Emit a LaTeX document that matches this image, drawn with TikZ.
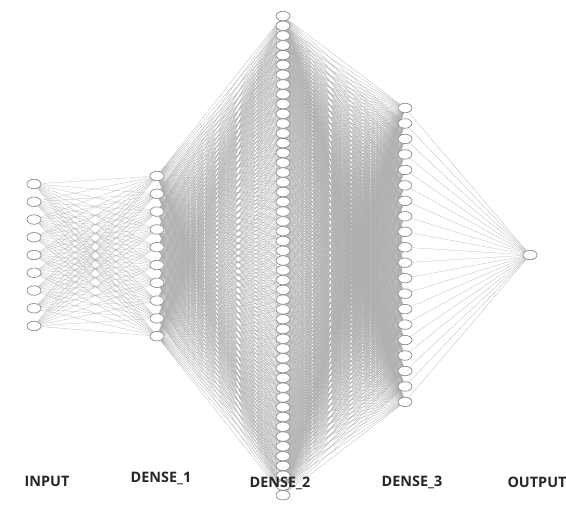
\documentclass[tikz,border=0pt]{standalone}
\usepackage{fontspec}
\setsansfont{Open Sans}
\usepackage{tikz}
\usetikzlibrary{shapes.geometric,backgrounds}
\definecolor{wire}{HTML}{ADADAD}
\definecolor{rim}{HTML}{8C8C8C}

\begin{document}
\begin{tikzpicture}[
    x=0.02cm,y=-0.02cm,
    neuron/.style={ellipse,draw=rim,fill=white,line width=0.4pt,inner sep=0pt,minimum width=0.28cm,minimum height=0.19cm},
    link/.style={draw=wire,line width=0.12pt},
    layername/.style={font=\sffamily\bfseries\fontsize{8.2}{9}\selectfont,text=black!85}
  ]
    \useasboundingbox (0,0) rectangle (566,515);
    % layers
    \foreach \i in {1,...,9}  \node[neuron] (in-\i) at (34,{184+(\i-1)*17.75}) {};
    \foreach \i in {1,...,10} \node[neuron] (da-\i) at (157,{176+(\i-1)*17.8}) {};
    \foreach \i in {1,...,50} \node[neuron] (db-\i) at (283,{16+(\i-1)*9.78}) {};
    \foreach \i in {1,...,20} \node[neuron] (dc-\i) at (405,{108+(\i-1)*15.47}) {};
    \node[neuron] (out) at (530,255) {};
    % connections
    \begin{scope}[on background layer]
      \foreach \i in {1,...,9} \foreach \j in {1,...,10} \draw[link] (in-\i) -- (da-\j);
      \foreach \i in {1,...,10} \foreach \j in {1,...,50} \draw[link] (da-\i) -- (db-\j);
      \foreach \i in {1,...,50} \foreach \j in {1,...,20} \draw[link] (db-\i) -- (dc-\j);
      \foreach \i in {1,...,20} \draw[link] (dc-\i) -- (out);
    \end{scope}
    % labels
    \node[layername] (l-in) at (47,481) {INPUT};
    \node[layername] (l-da) at (161,478) {DENSE\_1};
    \node[layername] (l-db) at (280,483) {DENSE\_2};
    \node[layername] (l-dc) at (412,482) {DENSE\_3};
    \node[layername] (l-out) at (537,482) {OUTPUT};
  \end{tikzpicture}
\end{document}
